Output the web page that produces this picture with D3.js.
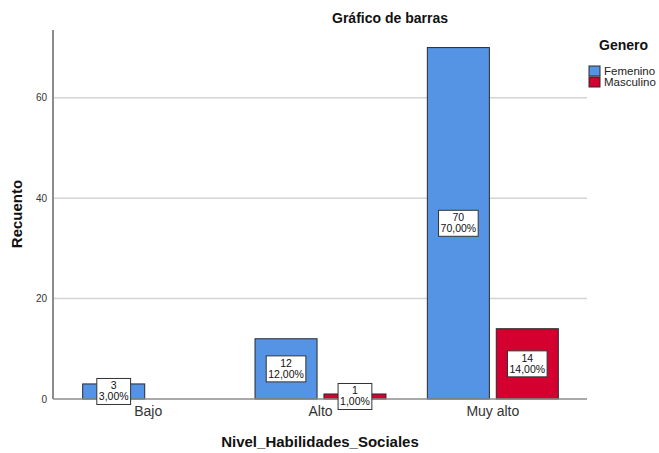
<!DOCTYPE html>
<html>
<head>
<meta charset="utf-8">
<script src="https://cdn.jsdelivr.net/npm/d3@7"></script>
<style>
  body { margin: 0; background: #fff; }
  svg { font-family: "Liberation Sans", Arial, sans-serif; }
</style>
</head>
<body>
<svg id="chart" width="659" height="453"></svg>
<script>
var categories = ["Bajo", "Alto", "Muy alto"];
var series = ["Femenino", "Masculino"];
var femenino = [3, 12, 70];
var masculino = [0, 1, 14];
var yTicks = [0, 20, 40, 60];
var colors = ["#5594e4", "#d4002f"];

(function() {
  var svg = d3.select("#chart");
  var plotLeft = 53, plotRight = 587, plotTop = 30, plotBottom = 399;

  var values = [femenino, masculino];
  var total = d3.sum(femenino) + d3.sum(masculino);

  var y = d3.scaleLinear().domain([0, 73.5]).range([plotBottom, plotTop]);
  var x0 = d3.scaleBand().domain(categories).range([62, 579]);
  var x1 = d3.scaleBand().domain(series).range([0, x0.bandwidth()]).paddingInner(0.1).paddingOuter(0.3);

  // grid
  svg.append("g").selectAll("line").data(yTicks.slice(1)).enter().append("line")
    .attr("x1", plotLeft).attr("x2", plotRight)
    .attr("y1", function(d) { return y(d); }).attr("y2", function(d) { return y(d); })
    .attr("stroke", "#d4d4d4").attr("stroke-width", 1.5);

  // y axis
  var yAxis = d3.axisLeft(y).tickValues(yTicks).tickSize(0).tickPadding(6);
  var gy = svg.append("g").attr("transform", "translate(" + plotLeft + ",0)").call(yAxis);
  gy.select(".domain").remove();
  gy.selectAll("text").attr("font-size", "10px").attr("fill", "#333").attr("font-family", "Liberation Sans, Arial, sans-serif");

  svg.append("line").attr("x1", plotLeft).attr("x2", plotLeft).attr("y1", plotTop).attr("y2", plotBottom)
    .attr("stroke", "#8c8c8c").attr("stroke-width", 2);

  // bars
  var data = [];
  categories.forEach(function(c, i) {
    series.forEach(function(s, j) {
      data.push({ cat: c, ser: s, v: values[j][i], color: colors[j] });
    });
  });
  var bars = data.filter(function(d) { return d.v > 0; });

  svg.append("g").selectAll("rect").data(bars).enter().append("rect")
    .attr("x", function(d) { return x0(d.cat) + x1(d.ser); })
    .attr("y", function(d) { return y(d.v); })
    .attr("width", x1.bandwidth())
    .attr("height", function(d) { return y(0) - y(d.v); })
    .attr("fill", function(d) { return d.color; })
    .attr("stroke", "#2a2a2a").attr("stroke-width", 1);

  // x axis line
  svg.append("line").attr("x1", plotLeft).attr("x2", plotRight).attr("y1", plotBottom).attr("y2", plotBottom)
    .attr("stroke", "#8c8c8c").attr("stroke-width", 1.5);

  var xAxis = d3.axisBottom(x0).tickSize(0).tickPadding(7);
  var gx = svg.append("g").attr("transform", "translate(0," + plotBottom + ")").call(xAxis);
  gx.select(".domain").remove();
  gx.selectAll("text").attr("font-size", "14px").attr("fill", "#333").attr("font-family", "Liberation Sans, Arial, sans-serif");

  // value labels
  var fmt = function(v) { return (v / total * 100).toFixed(2).replace(".", ",") + "%"; };
  var labels = svg.append("g").selectAll("g").data(bars).enter().append("g")
    .attr("transform", function(d) {
      var cx = x0(d.cat) + x1(d.ser) + x1.bandwidth() / 2;
      var cy = (y(d.v) + y(0)) / 2;
      return "translate(" + cx + "," + cy + ")";
    });
  labels.each(function(d) {
    var g = d3.select(this);
    var rect = g.append("rect");
    var t = g.append("text").attr("text-anchor", "middle").attr("font-size", "10.5px").attr("fill", "#111");
    t.append("tspan").attr("x", 0).attr("y", -2).text(d.v);
    t.append("tspan").attr("x", 0).attr("y", 9).text(fmt(d.v));
    var w = t.node().getBBox().width;
    rect.attr("x", -w / 2 - 2).attr("y", -13).attr("width", w + 4).attr("height", 26)
      .attr("fill", "#fff").attr("stroke", "#333").attr("stroke-width", 1);
  });

  // titles
  svg.append("text").attr("x", 390).attr("y", 23).attr("text-anchor", "middle")
    .attr("font-size", "14px").attr("font-weight", "bold").attr("fill", "#111").text("Gráfico de barras");
  svg.append("text").attr("x", 320).attr("y", 447).attr("text-anchor", "middle")
    .attr("font-size", "15px").attr("font-weight", "bold").attr("fill", "#111").text("Nivel_Habilidades_Sociales");
  svg.append("text").attr("transform", "translate(22,214) rotate(-90)").attr("text-anchor", "middle")
    .attr("font-size", "15px").attr("font-weight", "bold").attr("fill", "#111").text("Recuento");

  // legend
  svg.append("text").attr("x", 599).attr("y", 50).attr("font-size", "14px").attr("font-weight", "bold")
    .attr("fill", "#111").text("Genero");
  var leg = svg.append("g").selectAll("g").data(series).enter().append("g")
    .attr("transform", function(d, i) { return "translate(589," + (66 + i * 11) + ")"; });
  leg.append("rect").attr("width", 11).attr("height", 10)
    .attr("fill", function(d, i) { return colors[i]; }).attr("stroke", "#2a2a2a");
  leg.append("text").attr("x", 15).attr("y", 9).attr("font-size", "11.5px").attr("fill", "#222").text(function(d) { return d; });
})();
</script>
</body>
</html>
